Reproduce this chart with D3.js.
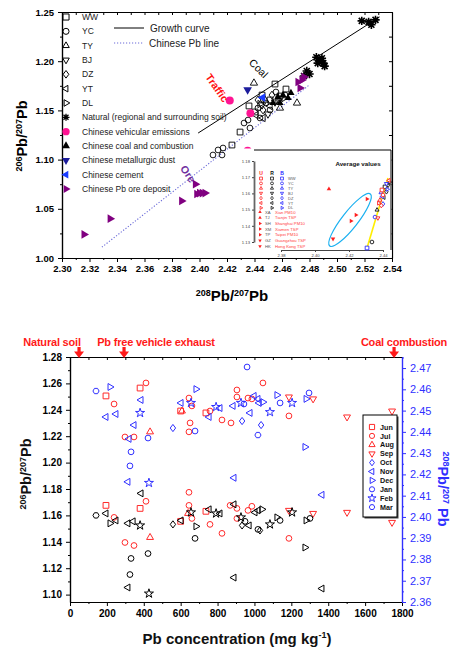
<!DOCTYPE html>
<html>
<head>
<meta charset="utf-8">
<script src="https://cdn.jsdelivr.net/npm/d3@7"></script>
<style>
body { margin: 0; background: #fff; }
text { font-family: "Liberation Sans", Arial, sans-serif; }
</style>
</head>
<body>
<script>
const W = 450, H = 647;

// ---- top chart: 208Pb/207Pb vs 206Pb/207Pb ----
const sites = ['WW', 'YC', 'TY', 'BJ', 'DZ', 'YT', 'DL'];
const ww = [[2.4549,1.1768],[2.4629,1.1717],[2.4360,1.1545],[2.4295,1.1280],[2.4236,1.1148],[2.4455,1.1656],[2.4513,1.1606],[2.4585,1.1646],[2.4404,1.1484]];
const yc = [[2.4324,1.1372],[2.4353,1.1402],[2.4367,1.1321],[2.4171,1.1118],[2.4135,1.1098],[2.4098,1.1047],[2.4164,1.1047],[2.4425,1.1524],[2.4484,1.1575],[2.4556,1.1687],[2.4622,1.1656],[2.4440,1.1423],[2.4513,1.1504]];
const ty = [[2.4396,1.1778],[2.4709,1.1575],[2.4585,1.1524],[2.4476,1.1606]];
const bj = [[2.4455,1.1555],[2.4549,1.1585],[2.4498,1.1463]];
const dz = [[2.4425,1.1606],[2.4527,1.1656],[2.4462,1.1504]];
const yt = [[2.4462,1.1423],[2.4513,1.1545],[2.4411,1.1453]];
const dl = [[2.4571,1.1606],[2.4440,1.1565],[2.4615,1.1626]];
const natural = [[2.518,1.241],[2.523,1.240],[2.525,1.237],[2.528,1.242],[2.485,1.204],[2.488,1.201],[2.490,1.198],[2.486,1.198],[2.491,1.195],[2.489,1.203],[2.478,1.190],[2.476,1.185],[2.480,1.187]];
const vehicular = [[2.422,1.160],[2.437,1.147],[2.435,1.109]];
const coal = [[2.4571,1.1636],[2.4607,1.1656],[2.4644,1.1626],[2.4585,1.1575],[2.4665,1.1677],[2.4535,1.1575]];
const metallurgic = [[2.435,1.171]];
const cement = [[2.446,1.163]];
const oreDeposit = [[2.316,1.024],[2.335,1.040],[2.387,1.058],[2.397,1.075],[2.398,1.065],[2.400,1.066],[2.402,1.066],[2.404,1.066],[2.4716,1.1789],[2.4745,1.1809],[2.4731,1.1728],[2.4760,1.1839]];
const growthCurve = [[2.399,1.127],[2.531,1.245]];
const chinesePbLine = [[2.329,1.011],[2.480,1.176]];

// inset: average values
const insetU = [[2.4394,1.1621],[2.4400,1.1590],[2.4382,1.1559],[2.4370,1.1448],[2.4390,1.1525],[2.4435,1.1680],[2.4375,1.1540]];
const insetR = [[2.4412,1.1640],[2.4335,1.1300],[2.4365,1.1498],[2.4430,1.1650],[2.4420,1.1610],[2.4405,1.1575],[2.4438,1.1670]];
const insetB = [[2.4306,1.1263],[2.4353,1.1454],[2.4388,1.1605],[2.4420,1.1660],[2.4400,1.1535],[2.4395,1.1580],[2.4425,1.1625]];
const cityCodes = ['XA', 'TJ', 'SH', 'XM', 'TP', 'GZ', 'HK'];
const cityNames = ['Xian PM10', 'Tianjin TSP', 'Shanghai PM10', 'Xiamen TSP', 'Taipei PM10', 'Guangzhou TSP', 'Hong Kong TSP'];
const cityPts = [['XA',2.4082,1.1627],['SH',2.4306,1.1565],['XM',2.4241,1.1467],['TP',2.4212,1.1430],['GZ',2.4106,1.1319]];
const yellowLine = [[2.4306,1.1263],[2.4429,1.1695]];
const ellipseCentre = [2.4206, 1.1436];

// ---- bottom chart: Pb concentration vs ratios ----
const months = ['Jun','Jul','Aug','Sep','Oct','Nov','Dec','Jan','Feb','Mar'];
const jun206 = [[195,1.1676],[380,1.1653],[600,1.1555],[737,1.1631]];
const jun208 = [[195,2.4569],[380,2.4606],[600,2.4498],[737,2.4489]];
const jul206 = [[239,1.1585],[412,1.1707],[298,1.1395],[347,1.1372],[645,1.1775],[645,1.1676],[661,1.1577],[759,1.1532],[824,1.1464],[868,1.1676],[905,1.1653],[905,1.1577],[965,1.1638],[986,1.1669],[1187,1.1426]];
const jul208 = [[239,2.4531],[412,2.4630],[298,2.4376],[347,2.4376],[645,2.4559],[645,2.4400],[661,2.4522],[651,2.4442],[759,2.4498],[824,2.4456],[1046,2.4630],[905,2.4597],[905,2.4564],[965,2.4559],[986,2.4555],[873,2.4442],[1187,2.4475]];
const aug206 = [[434,1.1433],[640,1.1615]];
const aug208 = [[434,2.4400],[607,2.4498]];
const sep206 = [[1187,1.1638],[1318,1.1615],[1502,1.1623],[1746,1.1547]];
const sep208 = [[1187,2.4564],[1318,2.4555],[1502,2.4470],[1746,2.4498]];
const oct206 = [[558,1.1532],[933,1.1524],[1030,1.1486]];
const oct208 = [[558,2.4418],[933,2.4451],[1036,2.4432]];
const nov206 = [[195,1.1615],[249,1.1562],[385,1.1767],[342,1.1555],[314,1.1540],[314,1.1054],[602,1.1562],[754,1.1646],[813,1.1615],[889,1.1684],[971,1.1524],[1003,1.1623],[1019,1.1638],[889,1.1129],[1366,1.1046]];
const nov208 = [[195,2.4470],[249,2.4484],[385,2.4550],[347,2.4432],[320,2.4367],[602,2.4536],[754,2.4470],[813,2.4512],[998,2.4569],[1019,2.4555],[1025,2.4536],[884,2.4522],[976,2.4489],[889,2.4184],[1366,2.4104],[314,2.4165]];
const dec206 = [[217,1.1540],[683,1.1517],[1041,1.1646],[1122,1.1585],[1280,1.1562],[1274,1.1357]];
const dec208 = [[217,2.4611],[683,2.4601],[1046,2.4540],[1122,2.4573],[1280,2.4555],[1274,2.4329]];
const jan206 = [[423,1.1311],[331,1.1274],[325,1.1152],[678,1.1426],[949,1.1555],[1019,1.1494],[1139,1.1562],[1301,1.1577]];
const jan208 = [[423,2.4371],[331,2.4306],[325,2.4240],[678,2.4404],[960,2.4705],[943,2.4531],[1139,2.4536],[1296,2.4583]];
const feb206 = [[380,1.1524],[656,1.1623],[792,1.1615],[927,1.1585],[1084,1.1532],[1204,1.1623],[428,1.1008]];
const feb208 = [[380,2.4489],[656,2.4536],[792,2.4517],[927,2.4536],[1084,2.4493],[1204,2.4536],[428,2.4160]];
const mar206 = [[141,1.1600]];
const mar208 = [[141,2.4592],[1019,2.4385]];
const sourceMarks = [['Natural soil', 49], ['Pb free vehicle exhaust', 293], ['Coal combustion', 1757]];

// ---------- helpers ----------
function shape(type, r) {
  const tri = a => {
    const p = [0, 120, 240].map(t => {
      const ang = (t + a) * Math.PI / 180;
      return [(r * Math.sin(ang)).toFixed(2), (-r * Math.cos(ang)).toFixed(2)];
    });
    return 'M' + p.map(q => q.join(',')).join('L') + 'Z';
  };
  switch (type) {
    case 'square': { const s = r * 0.8; return `M${-s},${-s}h${2*s}v${2*s}h${-2*s}Z`; }
    case 'circle': return d3.symbol(d3.symbolCircle, Math.PI * (r * 0.8) ** 2)();
    case 'up': return tri(0);
    case 'right': return tri(90);
    case 'down': return tri(180);
    case 'left': return tri(270);
    case 'diamond': return `M0,${-r}L${r*0.75},0L0,${r}L${-r*0.75},0Z`;
    case 'hexagon': {
      const p = d3.range(6).map(i => { const a = Math.PI / 3 * i; return [(r*0.85*Math.cos(a)).toFixed(2), (r*0.85*Math.sin(a)).toFixed(2)]; });
      return 'M' + p.map(q => q.join(',')).join('L') + 'Z';
    }
    case 'star': return d3.symbol(d3.symbolStar, r * r * 2.2)();
    case 'asterisk': {
      const d = r * 0.71;
      return `M${-r},0H${r}M0,${-r}V${r}M${-d},${-d}L${d},${d}M${d},${-d}L${-d},${d}`;
    }
  }
}

function drawPts(g, data, xs, ys, type, r, stroke, fill, sw) {
  g.selectAll(null).data(data).enter().append('path')
    .attr('d', shape(type, r))
    .attr('transform', d => `translate(${xs(d[0])},${ys(d[1])})`)
    .attr('fill', fill)
    .attr('stroke', stroke)
    .attr('stroke-width', sw);
}

function steps(a, b, s) {
  const out = [];
  for (let v = a; v <= b + s / 1000; v += s) out.push(+v.toFixed(4));
  return out;
}

function styleAxis(g, color, size, weight) {
  g.attr('font-family', '"Liberation Sans", Arial, sans-serif').attr('font-size', size).attr('font-weight', weight);
  g.select('.domain').attr('stroke', color).attr('stroke-width', 1.2);
  g.selectAll('.tick line').attr('stroke', color).attr('stroke-width', 1);
  g.selectAll('.tick text').attr('fill', color);
  return g;
}

function ratioText(t, topNum, bottomNum, big, small, gap) {
  t.append('tspan').attr('font-size', small).attr('dy', -small * 0.6).text(topNum);
  t.append('tspan').attr('font-size', big).attr('dy', small * 0.6).text('Pb/');
  t.append('tspan').attr('font-size', small).attr('dy', -small * 0.6).text(bottomNum);
  t.append('tspan').attr('font-size', big).attr('dy', small * 0.6).text((gap ? ' ' : '') + 'Pb');
}

const svg = d3.select('body').append('svg')
  .attr('width', W).attr('height', H)
  .style('display', 'block');

// =================== TOP CHART ===================
const x1 = d3.scaleLinear().domain([2.30, 2.54]).range([62, 392]);
const y1 = d3.scaleLinear().domain([1.00, 1.25]).range([258, 12]);
const upper = svg.append('g');

// axes
const fmt2 = d3.format('.2f');
styleAxis(upper.append('g').attr('transform', 'translate(62,0)')
  .call(d3.axisLeft(y1).tickValues(steps(1.00, 1.25, 0.05)).tickSize(4).tickSizeOuter(0).tickPadding(4).tickFormat(fmt2)), '#000', 9.5, 'bold');
styleAxis(upper.append('g').attr('transform', 'translate(62,0)')
  .call(d3.axisLeft(y1).tickValues(steps(1.025, 1.25, 0.05)).tickSize(2).tickSizeOuter(0).tickFormat('')), '#000', 9.5, 'bold');
styleAxis(upper.append('g').attr('transform', 'translate(0,258)')
  .call(d3.axisBottom(x1).tickValues(steps(2.30, 2.54, 0.02)).tickSize(4).tickSizeOuter(0).tickPadding(3).tickFormat(fmt2)), '#000', 9.5, 'bold');
styleAxis(upper.append('g').attr('transform', 'translate(0,258)')
  .call(d3.axisBottom(x1).tickValues(steps(2.31, 2.54, 0.02)).tickSize(2).tickSizeOuter(0).tickFormat('')), '#000', 9.5, 'bold');
styleAxis(upper.append('g').attr('transform', 'translate(0,12)')
  .call(d3.axisBottom(x1).tickValues(steps(2.30, 2.54, 0.01)).tickSize(3).tickSizeOuter(0).tickFormat('')), '#000', 9.5, 'bold');
styleAxis(upper.append('g').attr('transform', 'translate(392,0)')
  .call(d3.axisLeft(y1).tickValues(steps(1.00, 1.25, 0.025)).tickSize(3).tickSizeOuter(0).tickFormat('')), '#000', 9.5, 'bold');

// lines
const line1 = d3.line().x(d => x1(d[0])).y(d => y1(d[1]));
upper.append('path').attr('d', line1(growthCurve)).attr('stroke', '#000').attr('stroke-width', 1).attr('fill', 'none');
upper.append('path').attr('d', line1(chinesePbLine)).attr('stroke', '#6a6ad8').attr('stroke-width', 1.1)
  .attr('stroke-dasharray', '1.2,1.8').attr('fill', 'none');

// points
const openR = 3.6;
drawPts(upper, ww, x1, y1, 'square', openR, '#000', 'none', 0.9);
drawPts(upper, yc, x1, y1, 'circle', openR, '#000', 'none', 0.9);
drawPts(upper, ty, x1, y1, 'up', openR + 0.6, '#000', 'none', 0.9);
drawPts(upper, bj, x1, y1, 'down', openR + 0.6, '#000', 'none', 0.9);
drawPts(upper, dz, x1, y1, 'diamond', openR + 0.3, '#000', 'none', 0.9);
drawPts(upper, yt, x1, y1, 'left', openR + 0.6, '#000', 'none', 0.9);
drawPts(upper, dl, x1, y1, 'right', openR + 0.6, '#000', 'none', 0.9);
drawPts(upper, coal, x1, y1, 'up', 4.2, 'none', '#000', 0);
drawPts(upper, natural, x1, y1, 'asterisk', 4.2, '#000', 'none', 1.6);
drawPts(upper, oreDeposit, x1, y1, 'right', 5, 'none', '#800080', 0);
drawPts(upper, vehicular, x1, y1, 'circle', 5, 'none', '#ff1493', 0);
drawPts(upper, metallurgic, x1, y1, 'down', 5, 'none', '#1c1c9c', 0);
drawPts(upper, cement, x1, y1, 'left', 5, 'none', '#1a3cff', 0);

// annotations
upper.append('text').attr('transform', 'translate(256,71) rotate(45)').attr('text-anchor', 'middle')
  .attr('font-size', 10.5).attr('fill', '#000').text('Coal');
upper.append('text').attr('transform', 'translate(214,90) rotate(55)').attr('text-anchor', 'middle')
  .attr('font-size', 10.5).attr('font-weight', 'bold').attr('fill', '#ff1010').text('Traffic');
upper.append('text').attr('transform', 'translate(185,176) rotate(55)').attr('text-anchor', 'middle')
  .attr('font-size', 10.5).attr('font-weight', 'bold').attr('fill', '#7030a0').text('Ore');

// legend (left column)
const legendItems = [
  ['WW', 'square', '#000', 'none'], ['YC', 'circle', '#000', 'none'], ['TY', 'up', '#000', 'none'],
  ['BJ', 'down', '#000', 'none'], ['DZ', 'diamond', '#000', 'none'], ['YT', 'left', '#000', 'none'],
  ['DL', 'right', '#000', 'none'], ['Natural (regional and surrounding soil)', 'asterisk', '#000', 'none'],
  ['Chinese vehicular emissions', 'circle', 'none', '#ff1493'], ['Chinese coal and combustion', 'up', 'none', '#000'],
  ['Chinese metallurgic dust', 'down', 'none', '#1c1c9c'], ['Chinese cement', 'left', 'none', '#1a3cff'],
  ['Chinese Pb ore deposit', 'right', 'none', '#800080']
];
const leg = upper.append('g');
legendItems.forEach((it, i) => {
  const yy = 17 + i * 14.33;
  const filled = it[3] !== 'none';
  const r = it[1] === 'asterisk' ? 3.5 : (filled ? 4.6 : 3.8);
  leg.append('path').attr('d', shape(it[1], r)).attr('transform', `translate(66,${yy})`)
    .attr('fill', it[3]).attr('stroke', it[2]).attr('stroke-width', it[1] === 'asterisk' ? 1.3 : 1);
  leg.append('text').attr('x', 82).attr('y', yy + 3).attr('font-size', 8.5).attr('fill', '#222').text(it[0]);
});
leg.append('line').attr('x1', 114).attr('x2', 144).attr('y1', 28).attr('y2', 28).attr('stroke', '#000');
leg.append('text').attr('x', 150).attr('y', 31.5).attr('font-size', 10).attr('fill', '#222').text('Growth curve');
leg.append('line').attr('x1', 114).attr('x2', 144).attr('y1', 43).attr('y2', 43).attr('stroke', '#6a6ad8')
  .attr('stroke-dasharray', '1.2,1.8');
leg.append('text').attr('x', 149).attr('y', 46.5).attr('font-size', 10).attr('fill', '#222').text('Chinese Pb line');

// axis titles
ratioText(upper.append('text').attr('x', 232).attr('y', 301).attr('text-anchor', 'middle').attr('font-weight', 'bold'),
  '208', '207', 15, 9, false);
ratioText(upper.append('text').attr('transform', 'translate(27,136) rotate(-90)').attr('text-anchor', 'middle').attr('font-weight', 'bold'),
  '206', '207', 14.5, 9, false);

// ---- inset ----
const xI = d3.scaleLinear().domain([2.38, 2.44]).range([281, 383]);
const yI = d3.scaleLinear().domain([1.13, 1.18]).range([242, 161]);
const ins = svg.append('g');
ins.append('rect').attr('x', 238).attr('y', 148.5).attr('width', 153.5).attr('height', 108).attr('fill', '#fff');
ins.append('line').attr('x1', 254).attr('x2', 391).attr('y1', 150).attr('y2', 150).attr('stroke', '#000').attr('stroke-width', 1);
ins.append('line').attr('x1', 391).attr('x2', 391).attr('y1', 150).attr('y2', 250).attr('stroke', '#000').attr('stroke-width', 1);
const insLeft = styleAxis(ins.append('g').attr('transform', 'translate(254,0)')
  .call(d3.axisLeft(yI).tickValues(steps(1.13, 1.18, 0.01)).tickSize(2).tickSizeOuter(0).tickPadding(2).tickFormat(fmt2)), '#444', 4.2, 'normal');
insLeft.select('.domain').attr('stroke', '#666').attr('stroke-width', 1.8);
styleAxis(ins.append('g').attr('transform', 'translate(0,250)')
  .call(d3.axisBottom(xI).tickValues(steps(2.38, 2.44, 0.02)).tickSize(2).tickSizeOuter(0).tickPadding(2).tickFormat(fmt2)), '#444', 4.2, 'normal');

ins.append('text').attr('x', 358).attr('y', 166).attr('text-anchor', 'middle').attr('font-size', 6.2)
  .attr('font-weight', 'bold').attr('fill', '#111').text('Average values');

// ellipse + yellow line
ins.append('ellipse').attr('cx', xI(ellipseCentre[0])).attr('cy', yI(ellipseCentre[1])).attr('rx', 33).attr('ry', 8)
  .attr('transform', `rotate(-52,${xI(ellipseCentre[0])},${yI(ellipseCentre[1])})`)
  .attr('fill', 'none').attr('stroke', '#1ab0f0').attr('stroke-width', 1.2);
ins.append('path').attr('d', d3.line().x(d => xI(d[0])).y(d => yI(d[1]))(yellowLine))
  .attr('stroke', '#ffee00').attr('stroke-width', 1.6).attr('fill', 'none');

const siteShapes = ['square', 'circle', 'up', 'down', 'diamond', 'left', 'right'];
const cityShapes = { XA: 'up', TJ: 'up', SH: 'right', XM: 'right', TP: 'right', GZ: 'down', HK: 'down' };
cityPts.forEach(c => drawPts(ins, [[c[1], c[2]]], xI, yI, cityShapes[c[0]], 2.6, 'none', '#ff2020', 0));
[[insetR, '#111'], [insetB, '#2a2aff'], [insetU, '#ff2020']].forEach(([arr, col]) => {
  arr.forEach((d, i) => drawPts(ins, [d], xI, yI, siteShapes[i], 2.3, col, '#fff', 0.9));
});

// inset legend
[['U', '#ff2020', 261], ['R', '#111', 272], ['B', '#2a2aff', 282]].forEach(h => {
  ins.append('text').attr('x', h[2]).attr('y', 175).attr('text-anchor', 'middle').attr('font-size', 5)
    .attr('font-weight', 'bold').attr('fill', h[1]).text(h[0]);
});
sites.forEach((s, i) => {
  const yy = 178.5 + i * 4.9;
  [['#ff2020', 261], ['#111', 272], ['#2a2aff', 282]].forEach(c => {
    ins.append('path').attr('d', shape(siteShapes[i], 1.8)).attr('transform', `translate(${c[1]},${yy})`)
      .attr('fill', '#fff').attr('stroke', c[0]).attr('stroke-width', 0.8);
  });
  ins.append('text').attr('x', 288).attr('y', yy + 1.5).attr('font-size', 4).attr('fill', '#555').text(s);
});
cityCodes.forEach((c, i) => {
  const yy = 212 + i * 5.7;
  ins.append('path').attr('d', shape(cityShapes[c], 2)).attr('transform', `translate(260,${yy})`).attr('fill', '#ff2020');
  ins.append('text').attr('x', 265).attr('y', yy + 1.5).attr('font-size', 4.2).attr('fill', '#555').text(c);
  ins.append('text').attr('x', 275).attr('y', yy + 1.5).attr('font-size', 4.2).attr('fill', '#ff4040').text(cityNames[i]);
});

// =================== BOTTOM CHART ===================
const x2 = d3.scaleLinear().domain([0, 1800]).range([70, 402]);
const yL = d3.scaleLinear().domain([1.0944, 1.28]).range([602, 357]);
const yR = d3.scaleLinear().domain([2.36, 2.4752]).range([602, 357]);
const bot = svg.append('g');

styleAxis(bot.append('g').attr('transform', 'translate(70,0)')
  .call(d3.axisLeft(yL).tickValues(steps(1.10, 1.28, 0.02)).tickSize(4).tickSizeOuter(0).tickPadding(4).tickFormat(fmt2)), '#000', 10, 'bold');
styleAxis(bot.append('g').attr('transform', 'translate(70,0)')
  .call(d3.axisLeft(yL).tickValues(steps(1.11, 1.28, 0.02)).tickSize(2).tickSizeOuter(0).tickFormat('')), '#000', 10, 'bold');
styleAxis(bot.append('g').attr('transform', 'translate(0,602)')
  .call(d3.axisBottom(x2).tickValues(steps(0, 1800, 200)).tickSize(4).tickSizeOuter(0).tickPadding(4).tickFormat(d3.format('d'))), '#000', 10, 'bold');
styleAxis(bot.append('g').attr('transform', 'translate(0,602)')
  .call(d3.axisBottom(x2).tickValues(steps(100, 1800, 200)).tickSize(2).tickSizeOuter(0).tickFormat('')), '#000', 10, 'bold');
styleAxis(bot.append('g').attr('transform', 'translate(0,357)')
  .call(d3.axisBottom(x2).tickValues(steps(0, 1800, 100)).tickSize(3).tickSizeOuter(0).tickFormat('')), '#000', 10, 'bold');
const blue = '#3030ff';
styleAxis(bot.append('g').attr('transform', 'translate(402,0)')
  .call(d3.axisRight(yR).tickValues(steps(2.36, 2.47, 0.01)).tickSize(4).tickSizeOuter(0).tickPadding(4).tickFormat(fmt2)), blue, 11, 'normal');
styleAxis(bot.append('g').attr('transform', 'translate(402,0)')
  .call(d3.axisRight(yR).tickValues(steps(2.365, 2.475, 0.01)).tickSize(2).tickSizeOuter(0).tickFormat('')), blue, 11, 'normal');

// points
const monthShape = { Jun: 'square', Jul: 'circle', Aug: 'up', Sep: 'down', Oct: 'diamond', Nov: 'left', Dec: 'right', Jan: 'circle', Feb: 'star', Mar: 'hexagon' };
const red = '#ff2a2a';
const series = [
  ['Jun', jun206, jun208], ['Jul', jul206, jul208], ['Aug', aug206, aug208], ['Sep', sep206, sep208],
  ['Oct', oct206, oct208], ['Nov', nov206, nov208], ['Dec', dec206, dec208], ['Jan', jan206, jan208],
  ['Feb', feb206, feb208], ['Mar', mar206, mar208]
];
function markR(m) { return m === 'Feb' ? 3.4 : (['Aug','Sep','Nov','Dec'].includes(m) ? 4 : 3.6); }
series.forEach(([m, a206, a208]) => {
  const summer = months.indexOf(m) < 4;
  drawPts(bot, a206, x2, yL, monthShape[m], markR(m), summer ? red : '#000', 'none', 1);
  drawPts(bot, a208, x2, yR, monthShape[m], markR(m), summer ? red : blue, 'none', 1);
});

// legend
const lg = bot.append('g');
lg.append('rect').attr('x', 364.5).attr('y', 416.5).attr('width', 34).attr('height', 102).attr('fill', '#444');
lg.append('rect').attr('x', 363).attr('y', 415).attr('width', 34).attr('height', 102).attr('fill', '#fff').attr('stroke', '#000').attr('stroke-width', 1);
months.forEach((m, i) => {
  const yy = 427 + i * 8.9;
  const summer = i < 4;
  lg.append('path').attr('d', shape(monthShape[m], markR(m) * 0.9)).attr('transform', `translate(372,${yy})`)
    .attr('fill', 'none').attr('stroke', summer ? red : blue).attr('stroke-width', 1);
  lg.append('text').attr('x', 380).attr('y', yy + 2.6).attr('font-size', 7.2).attr('font-weight', 'bold').attr('fill', '#111').text(m);
});

// source arrows
sourceMarks.forEach(([label, c]) => {
  const ax = x2(c);
  const tx = label === 'Coal combustion' ? 404 : (label === 'Natural soil' ? 52 : 156);
  bot.append('text').attr('x', tx).attr('y', 346).attr('text-anchor', 'middle').attr('font-size', 11)
    .attr('font-weight', 'bold').attr('fill', '#ff1a1a').attr('letter-spacing', -0.2).text(label);
  bot.append('path').attr('d', `M${ax-1.6},347V351.5H${ax-5}L${ax},358L${ax+5},351.5H${ax+1.6}V347Z`).attr('fill', '#ff1a1a');
});

// titles
const xt = bot.append('text').attr('x', 237).attr('y', 644).attr('text-anchor', 'middle')
  .attr('font-size', 15).attr('font-weight', 'bold').attr('fill', '#111');
xt.append('tspan').text('Pb concentration (mg kg');
xt.append('tspan').attr('font-size', 9).attr('dy', -6).text('-1');
xt.append('tspan').attr('dy', 6).text(')');
ratioText(bot.append('text').attr('transform', 'translate(31,474) rotate(-90)').attr('text-anchor', 'middle')
  .attr('font-weight', 'bold').attr('fill', '#111'), '206', '207', 14.5, 9, false);
ratioText(bot.append('text').attr('transform', 'translate(438,489) rotate(90)').attr('text-anchor', 'middle')
  .attr('font-weight', 'bold').attr('fill', blue), '208', '207', 14.5, 9, true);
</script>
</body>
</html>
